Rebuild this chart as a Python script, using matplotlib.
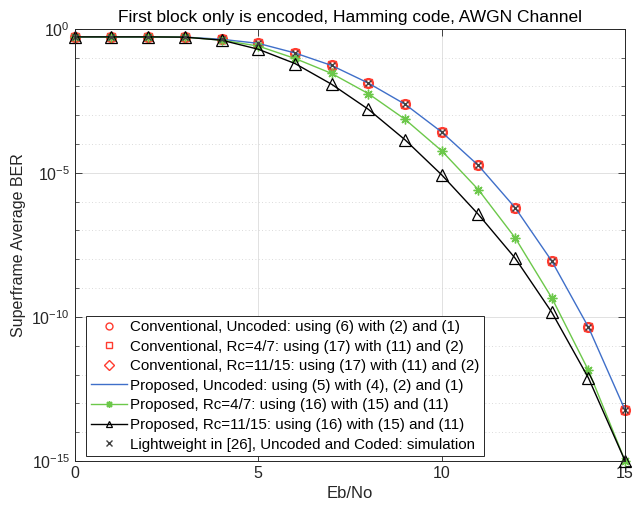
import numpy as np
import matplotlib
matplotlib.use("Agg")
import matplotlib.pyplot as plt
from matplotlib.ticker import NullFormatter, FixedLocator

plt.rcParams['font.family'] = ['Liberation Sans', 'DejaVu Sans']
plt.rcParams['mathtext.fontset'] = 'custom'
plt.rcParams['mathtext.rm'] = 'Liberation Sans'

# data
ebno = np.arange(0, 16)
ber_uncoded = [0.52, 0.52, 0.52, 0.51, 0.43, 0.31, 0.144, 0.053, 0.013,
               2.4e-3, 2.6e-4, 1.8e-5, 6.2e-7, 8.7e-9, 4.4e-11, 5.8e-14]
ber_rc47 = [0.52, 0.52, 0.52, 0.51, 0.40, 0.25, 0.093, 0.028, 5.6e-3,
            7.2e-4, 5.8e-5, 2.6e-6, 5.6e-8, 4.6e-10, 1.4e-12, 1e-15]
ber_rc1115 = [0.52, 0.52, 0.52, 0.51, 0.40, 0.194, 0.062, 0.0118, 1.6e-3,
              1.4e-4, 8.5e-6, 3.6e-7, 1.1e-8, 1.45e-10, 7.6e-13, 1e-15]

labels = [
    "Conventional, Uncoded: using (6) with (2) and (1)",
    "Conventional, Rc=4/7: using (17) with (11) and (2)",
    "Conventional, Rc=11/15: using (17) with (11) and (2)",
    "Proposed, Uncoded: using (5) with (4), (2) and (1)",
    "Proposed, Rc=4/7: using (16) with (15) and (11)",
    "Proposed, Rc=11/15: using (16) with (15) and (11)",
    "Lightweight in [26], Uncoded and Coded: simulation",
]

red = '#ff3b2f'
blue = '#3f6fc9'
green = '#6cc84a'
axc = '#262626'
asterisk = (8, 2, 0)

fig = plt.figure(figsize=(6.34, 5.08), dpi=100)
ax = fig.add_axes([0.118, 0.0925, 0.868, 0.851])

ax.plot(ebno, ber_uncoded, 'o', color=red, mfc='none', ms=7, mew=1, label=labels[0], clip_on=False)
ax.plot(ebno, ber_uncoded, 's', color=red, mfc='none', ms=6, mew=1, label=labels[1], clip_on=False)
ax.plot(ebno, ber_uncoded, 'D', color=red, mfc='none', ms=5.5, mew=1, label=labels[2], clip_on=False)
ax.plot(ebno, ber_uncoded, '-', color=blue, lw=1, label=labels[3])
ax.plot(ebno, ber_rc47, '-', marker=asterisk, color=green, lw=1, ms=7, mew=1, label=labels[4], clip_on=False)
ax.plot(ebno, ber_rc1115, '-^', color='black', mfc='none', lw=1, ms=8, mew=0.9, label=labels[5], clip_on=False)
ax.plot(ebno, ber_uncoded, 'x', color='#404040', ms=4.5, mew=1, label=labels[6], clip_on=False)

ax.set_yscale('log')
ax.set_xlim(0, 15)
ax.set_ylim(1e-15, 1)
ax.xaxis.set_major_locator(FixedLocator([0, 5, 10, 15]))
ax.yaxis.set_major_locator(FixedLocator([1e-15, 1e-10, 1e-5, 1]))
ax.yaxis.set_minor_locator(FixedLocator([10.0 ** k for k in range(-15, 1)]))
ax.yaxis.set_minor_formatter(NullFormatter())

ax.tick_params(which='both', direction='in', top=True, right=True, colors=axc, labelsize=11.5)
ax.tick_params(which='major', length=5, width=0.6)
ax.tick_params(which='minor', length=3, width=0.5)
for s in ax.spines.values():
    s.set_color(axc)
    s.set_linewidth(0.7)

ax.grid(True, which='major', color='#dcdcdc', lw=0.6, ls='-')
ax.grid(True, which='minor', axis='y', color='#cfcfcf', lw=0.6, ls=(0, (1, 3)))
ax.set_axisbelow(True)

ax.set_title("First block only is encoded, Hamming code, AWGN Channel", fontsize=12.5, color='black', pad=5)
ax.set_xlabel("Eb/No", fontsize=12, color=axc)
ax.set_ylabel("Superframe Average BER", fontsize=11.5, color=axc)

leg = ax.legend(loc='lower left', bbox_to_anchor=(0.021, 0.012), fontsize=10.9, frameon=True,
                fancybox=False, edgecolor=axc, framealpha=1, borderpad=0.28, labelspacing=0.37,
                handlelength=2.4, handletextpad=0.2, borderaxespad=0)
leg.get_frame().set_linewidth(0.7)
for h in leg.legend_handles:
    h.set_markersize(5)

fig.savefig("out.png", dpi=100, facecolor='white')
